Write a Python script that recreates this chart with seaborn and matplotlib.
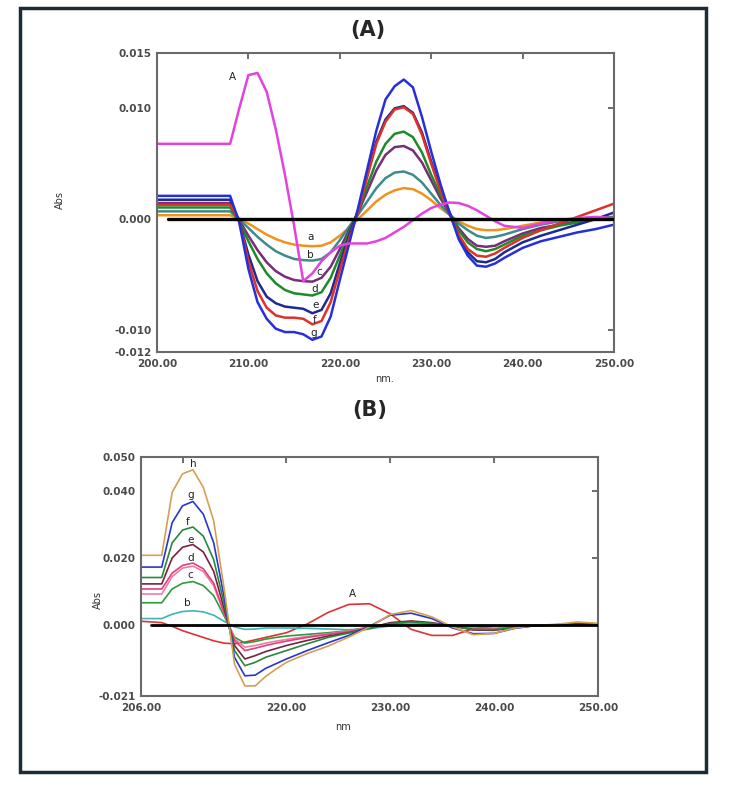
import numpy as np
import pandas as pd
import seaborn as sns
import matplotlib.pyplot as plt
from matplotlib.patches import Rectangle

# ---- panel (A) data, absorbance x 1e-3 ----
wl_a = [200, 208, 209, 210, 211, 212, 213, 214, 215, 216, 217, 218, 219, 220, 221, 222, 223, 224, 225,
        226, 227, 228, 229, 230, 231, 232, 233, 234, 235, 236, 237, 238, 240, 242, 244, 246, 248, 250]
a_a = [0.35, 0.35, 0.05, -0.4, -0.9, -1.4, -1.8, -2.1, -2.3, -2.4, -2.45, -2.4, -2.1, -1.5, -0.8, 0.0, 0.8, 1.6, 2.2,
       2.6, 2.8, 2.7, 2.3, 1.7, 1.0, 0.4, -0.2, -0.6, -0.9, -1.0, -1.0, -0.9, -0.6, -0.3, -0.1, 0.0, 0.1, 0.1]
b_a = [0.7, 0.7, 0.0, -0.8, -1.6, -2.3, -2.9, -3.3, -3.6, -3.7, -3.75, -3.6, -3.0, -1.9, -0.7, 0.4, 1.6, 2.8, 3.7,
       4.2, 4.3, 4.0, 3.3, 2.3, 1.3, 0.4, -0.4, -1.0, -1.5, -1.7, -1.6, -1.4, -0.9, -0.5, -0.2, 0.0, 0.1, 0.2]
c_a = [1.45, 1.45, -0.1, -1.5, -2.8, -3.9, -4.7, -5.2, -5.5, -5.6, -5.65, -5.3, -4.3, -2.7, -1.0, 0.6, 2.5, 4.4, 5.8,
       6.5, 6.6, 6.2, 5.1, 3.5, 1.9, 0.5, -0.8, -1.8, -2.4, -2.5, -2.4, -2.0, -1.3, -0.8, -0.5, -0.2, 0.0, 0.1]
d_a = [1.05, 1.05, -0.2, -2.0, -3.6, -4.9, -5.8, -6.4, -6.7, -6.8, -6.9, -6.6, -5.3, -3.3, -1.2, 0.7, 3.0, 5.2, 6.8,
       7.7, 7.9, 7.4, 6.0, 4.0, 2.2, 0.6, -1.0, -2.1, -2.7, -2.9, -2.7, -2.3, -1.5, -1.0, -0.6, -0.3, 0.0, 0.2]
e_a = [1.75, 1.75, -0.2, -3.2, -5.6, -7.0, -7.6, -7.9, -8.0, -8.1, -8.5, -8.2, -6.7, -4.0, -1.5, 0.8, 4.0, 7.0, 9.0,
       10.0, 10.2, 9.6, 7.8, 5.2, 2.8, 0.6, -1.5, -3.0, -3.8, -3.9, -3.6, -3.0, -2.1, -1.5, -1.0, -0.5, 0.0, 0.6]
f_a = [1.3, 1.3, -0.2, -3.8, -6.5, -8.0, -8.7, -8.9, -8.9, -9.0, -9.5, -9.2, -7.5, -4.6, -1.8, 0.6, 3.8, 6.8, 8.8,
       9.9, 10.1, 9.5, 7.6, 5.0, 2.6, 0.5, -1.4, -2.7, -3.3, -3.4, -3.1, -2.6, -1.7, -1.0, -0.4, 0.2, 0.8, 1.4]
g_a = [2.1, 2.1, -0.3, -4.5, -7.5, -9.0, -9.9, -10.2, -10.2, -10.4, -10.9, -10.6, -8.8, -5.5, -2.3, 1.0, 4.5, 8.0, 10.8,
       12.0, 12.6, 11.9, 9.2, 6.1, 3.2, 0.6, -1.8, -3.3, -4.2, -4.3, -4.0, -3.5, -2.6, -2.0, -1.6, -1.2, -0.9, -0.5]
std_a = [6.8, 6.8, 10.0, 13.0, 13.2, 11.5, 8.1, 4.0, -0.6, -5.6, -4.9, -3.8, -3.0, -2.4, -2.2, -2.2, -2.2, -2.0, -1.7,
         -1.2, -0.7, -0.1, 0.5, 1.0, 1.3, 1.5, 1.45, 1.2, 0.8, 0.3, -0.2, -0.6, -0.8, -0.4, -0.1, 0.1, 0.2, 0.1]

# ---- panel (B) data, absorbance x 1e-3 ----
wl_b = [206, 208, 209, 210, 211, 212, 213, 214, 215, 216, 217, 218, 219, 220, 222, 224, 226, 228, 230,
        232, 234, 236, 238, 240, 242, 244, 246, 248, 250]
b_b = [2.0, 2.0, 3.3, 4.1, 4.3, 4.0, 3.0, 1.2, -0.5, -1.2, -1.1, -0.8, -0.8, -0.8, -0.9, -1.1, -1.3, -1.0, -0.2,
       0.3, 0.3, 0.0, -0.3, -0.4, -0.2, 0.0, 0.0, 0.1, 0.1]
c_b = [6.7, 6.7, 10.8, 12.5, 13.0, 11.8, 8.8, 2.8, -3.5, -5.3, -4.8, -4.1, -3.6, -3.2, -2.7, -2.2, -1.6, -0.5, 0.5,
       0.8, 0.5, -0.2, -0.9, -1.0, -0.5, -0.1, 0.1, 0.2, 0.2]
d2_b = [9.3, 9.3, 14.5, 17.0, 17.6, 16.0, 11.8, 3.5, -4.0, -6.5, -6.0, -5.3, -4.7, -4.2, -3.3, -2.5, -1.7, -0.6, 0.5,
        0.9, 0.5, -0.2, -1.0, -1.1, -0.5, -0.1, 0.1, 0.3, 0.2]
d_b = [10.8, 10.8, 15.5, 17.8, 18.5, 16.8, 12.5, 3.8, -4.5, -7.5, -6.8, -6.0, -5.3, -4.7, -3.6, -2.7, -1.9, -0.7, 0.6,
       1.0, 0.6, -0.2, -1.1, -1.2, -0.6, -0.1, 0.1, 0.3, 0.2]
e_b = [12.3, 12.3, 20.0, 23.2, 24.0, 21.8, 16.0, 5.0, -6.0, -10.0, -9.0, -7.8, -6.9, -6.0, -4.5, -3.2, -2.2, -0.8, 0.8,
       1.3, 0.8, -0.2, -1.4, -1.5, -0.7, -0.1, 0.1, 0.4, 0.3]
f_b = [14.2, 14.2, 24.5, 28.3, 29.2, 26.5, 19.5, 6.5, -7.5, -12.0, -11.0, -9.5, -8.5, -7.5, -5.5, -3.6, -2.3, -1.0, 0.5,
       1.0, 0.6, -0.3, -1.2, -1.3, -0.6, -0.1, 0.1, 0.4, 0.3]
g_b = [17.3, 17.3, 30.5, 35.5, 36.8, 33.0, 24.5, 8.5, -9.5, -15.0, -14.8, -12.8, -11.4, -10.0, -7.5, -5.2, -3.0, -0.3, 3.0,
       3.6, 2.0, -0.8, -2.5, -2.4, -0.9, -0.1, 0.2, 0.6, 0.4]
h_b = [20.8, 20.8, 39.5, 45.0, 46.2, 41.0, 31.0, 11.0, -11.5, -18.0, -18.0, -15.2, -13.0, -11.0, -8.4, -6.2, -3.5, -0.5, 3.2,
       4.4, 2.5, -0.5, -2.8, -2.4, -0.8, 0.0, 0.3, 1.0, 0.6]
std_b = [1.2, 0.8, -0.3, -1.6, -2.6, -3.6, -4.6, -5.3, -5.5, -5.0, -4.3, -3.6, -2.9, -2.2, 0.4, 3.8, 6.2, 6.4, 3.4,
         -1.2, -3.0, -3.0, -1.0, -0.3, 0.0, 0.0, 0.1, 0.3, 0.2]

series_a = {'a': a_a, 'b': b_a, 'c': c_a, 'd': d_a, 'e': e_a, 'f': f_a, 'g': g_a, 'A': std_a}
colors_a = {'a': '#f0921e', 'b': '#3d8c8c', 'c': '#7a2b7a', 'd': '#1f8a2a', 'e': '#1e2a90',
            'f': '#e0302a', 'g': '#2630d8', 'A': '#e442e0'}
series_b = {'A': std_b, 'b': b_b, 'c': c_b, 'd2': d2_b, 'd': d_b, 'e': e_b, 'f': f_b, 'g': g_b, 'h': h_b}
colors_b = {'A': '#e03232', 'b': '#3fb4b4', 'c': '#2f9a3c', 'd2': '#f27aa8', 'd': '#e0407a',
            'e': '#7a2040', 'f': '#278a38', 'g': '#2a35d0', 'h': '#d4a052'}

# curve label positions (nm, abs x 1e-3)
lab_a = {'A': (208.3, 12.8), 'a': (216.8, -1.6), 'b': (216.8, -3.2), 'c': (217.7, -4.8),
         'd': (217.3, -6.3), 'e': (217.3, -7.8), 'f': (217.3, -9.1), 'g': (217.1, -10.3)}
lab_b = {'h': (211.0, 47.8), 'g': (210.8, 38.6), 'f': (210.5, 30.8), 'e': (210.8, 25.3),
         'd': (210.8, 20.1), 'c': (210.7, 14.9), 'b': (210.5, 6.6), 'A': (226.4, 9.2)}

sns.set_style('white')
plt.rcParams['font.family'] = ['DejaVu Sans']

fig = plt.figure(figsize=(7.3, 7.85), dpi=100)
fig.patches.append(Rectangle((20 / 730, 1 - 772 / 785), 686 / 730, 764 / 785, transform=fig.transFigure,
                             fill=False, edgecolor='#1c2c34', linewidth=2.5))

ax1 = fig.add_axes([157 / 730, 1 - 352 / 785, 457 / 730, 299 / 785])
ax2 = fig.add_axes([141 / 730, 1 - 696 / 785, 457 / 730, 239 / 785])


def long_df(wl, series):
    frames = []
    for name, vals in series.items():
        frames.append(pd.DataFrame({'nm': wl, 'abs': np.array(vals) / 1000.0, 'curve': name}))
    return pd.concat(frames, ignore_index=True)


df_a = long_df(wl_a, series_a)
df_b = long_df(wl_b, series_b)

for name in series_a:
    sub = df_a[df_a['curve'] == name]
    sns.lineplot(data=sub, x='nm', y='abs', color=colors_a[name], lw=1.8, ax=ax1,
                 estimator=None, sort=False, legend=False)
ax1.plot([201.2, 250], [0, 0], color='black', lw=2.4, zorder=5)
for name, (x, y) in lab_a.items():
    ax1.text(x, y / 1000.0, name, fontsize=7.5, ha='center', va='center', color='#222', zorder=6)

for name in series_b:
    sub = df_b[df_b['curve'] == name]
    sns.lineplot(data=sub, x='nm', y='abs', color=colors_b[name], lw=1.2, ax=ax2,
                 estimator=None, sort=False, legend=False)
ax2.plot([207, 250], [0, 0], color='black', lw=2.0, zorder=5)
for name, (x, y) in lab_b.items():
    ax2.text(x, y / 1000.0, name, fontsize=7.5, ha='center', va='center', color='#222', zorder=6)

tick_font = dict(fontsize=7.5, fontweight='bold', color='#4a4a4a')

ax1.set_xlim(200, 250)
ax1.set_ylim(-0.012, 0.015)
ax1.set_xticks([200, 210, 220, 230, 240, 250])
ax1.set_xticklabels(['200.00', '210.00', '220.00', '230.00', '240.00', '250.00'], **tick_font)
ax1.set_yticks([-0.012, -0.010, 0.0, 0.010, 0.015])
ax1.set_yticklabels(['-0.012', '-0.010', '0.000', '0.010', '0.015'], **tick_font)

ax2.set_xlim(206, 250)
ax2.set_ylim(-0.021, 0.050)
ax2.set_xticks([206, 210, 220, 230, 240, 250])
ax2.set_xticklabels(['206.00', '', '220.00', '230.00', '240.00', '250.00'], **tick_font)
ax2.set_yticks([-0.021, 0.0, 0.020, 0.040, 0.050])
ax2.set_yticklabels(['-0.021', '0.000', '0.020', '0.040', '0.050'], **tick_font)

for ax in (ax1, ax2):
    ax.set_xlabel('')
    ax.set_ylabel('')
    ax.tick_params(direction='in', length=4, width=1.2, color='#555', top=True, right=True)
    ax.tick_params(axis='x', pad=5)
    ax.tick_params(axis='y', pad=4)
    for s in ax.spines.values():
        s.set_color('#6a6a6a')
        s.set_linewidth(1.5)

fig.text(368 / 730, 1 - 30 / 785, '(A)', fontsize=15, fontweight='bold', ha='center', va='center')
fig.text(370 / 730, 1 - 410 / 785, '(B)', fontsize=15, fontweight='bold', ha='center', va='center')
fig.text(60 / 730, 1 - 200 / 785, 'Abs', fontsize=7, rotation=90, ha='center', va='center', color='#333')
fig.text(385 / 730, 1 - 379 / 785, 'nm.', fontsize=7, ha='center', va='center', color='#333')
fig.text(98 / 730, 1 - 600 / 785, 'Abs', fontsize=7, rotation=90, ha='center', va='center', color='#333')
fig.text(343 / 730, 1 - 727 / 785, 'nm', fontsize=7, ha='center', va='center', color='#333')

fig.savefig('out.png', dpi=100, facecolor='white')
